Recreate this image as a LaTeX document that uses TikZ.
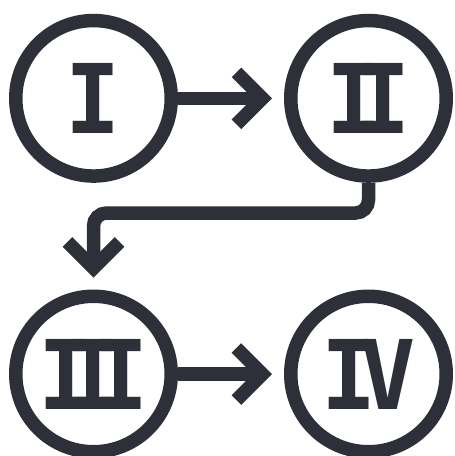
\documentclass[tikz,border=0pt]{standalone}
\usepackage{fontspec}
\setmainfont{DejaVu Sans Mono}
\usetikzlibrary{arrows.meta}
\definecolor{ink}{RGB}{46,48,57}
\newcommand\tallnum[1]{\scalebox{1.03}[1.08]{#1}}
\begin{document}
\begin{tikzpicture}[x=1pt,y=-1pt,
  stage/.style={circle, draw=ink, line width=13.5pt, minimum size=155.5pt,
    inner sep=0pt, outer sep=6.75pt, text=ink,
    font=\fontsize{89}{89}\selectfont\bfseries},
  flow/.style={draw=ink, line width=13.5pt,
    -{Straight Barb[length=26pt, width=52pt, line width=13.5pt]},
    shorten >=12pt}]
\useasboundingbox (0,0) rectangle (455,456);
\node[stage] (I)   at (93.5,98.3)  {\tallnum{I}};
\node[stage] (II)  at (368.5,98.3) {\tallnum{I\kern-26pt I}};
\node[stage] (III) at (93.5,374)   {\tallnum{I\kern-26.5pt I\kern-26.5pt I}};
\node[stage] (IV)  at (368.5,374)  {\tallnum{I\kern-15pt V}};
\coordinate (bend) at (0,213);
\draw[flow] (I) -- (II);
\draw[flow, rounded corners=13pt] (II.south) -- (II.south |- bend) -- (III.north |- bend) -- (III.north);
\draw[flow] (III) -- (IV);
\end{tikzpicture}
\end{document}
